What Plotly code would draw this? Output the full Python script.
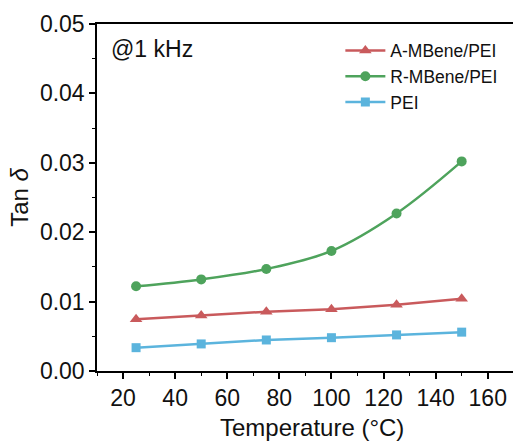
import plotly.graph_objects as go

temperature = [25, 50, 75, 100, 125, 150]
a_mbene = [0.00745, 0.0080, 0.00855, 0.0089, 0.00955, 0.0104]
r_mbene = [0.0122, 0.0132, 0.0147, 0.0173, 0.0227, 0.0302]
pei = [0.00336, 0.0039, 0.00447, 0.0048, 0.0052, 0.0056]

FONT = "Liberation Sans, Arial, sans-serif"

fig = go.Figure()
fig.add_trace(go.Scatter(x=temperature, y=a_mbene, name="A-MBene/PEI", mode="lines+markers",
                         line=dict(color="#C95A5C", width=2.5),
                         marker=dict(symbol="triangle-up", size=11, color="#C95A5C")))
fig.add_trace(go.Scatter(x=temperature, y=r_mbene, name="R-MBene/PEI", mode="lines+markers",
                         line=dict(color="#4EA35C", width=2.5, shape="spline", smoothing=1.0),
                         marker=dict(symbol="circle", size=10, color="#4EA35C")))
fig.add_trace(go.Scatter(x=temperature, y=pei, name="PEI", mode="lines+markers",
                         line=dict(color="#5BB4DD", width=2.5),
                         marker=dict(symbol="square", size=9, color="#5BB4DD")))

fig.update_layout(
    width=513, height=447,
    margin=dict(l=97, r=0, t=24, b=76),
    paper_bgcolor="white", plot_bgcolor="white",
    font=dict(family=FONT, color="#111111"),
    showlegend=True,
    legend=dict(x=0.585, y=0.975, xanchor="left", yanchor="top",
                font=dict(size=17.5, family=FONT), bgcolor="rgba(0,0,0,0)",
                tracegroupgap=0, itemwidth=40),
    xaxis=dict(range=[10, 169.7], tickvals=[20, 40, 60, 80, 100, 120, 140, 160],
               showline=True, linecolor="black", linewidth=1.5, mirror=True,
               ticks="outside", ticklen=6, tickwidth=1.5, tickcolor="black",
               minor=dict(tickvals=[10, 30, 50, 70, 90, 110, 130, 150, 170], ticks="outside",
                          ticklen=3, tickwidth=1.2, tickcolor="black"),
               tickfont=dict(size=23, family=FONT), showgrid=False, zeroline=False),
    yaxis=dict(range=[0, 0.05], tickvals=[0, 0.01, 0.02, 0.03, 0.04, 0.05], tickformat=".2f",
               showline=True, linecolor="black", linewidth=1.5,
               ticks="outside", ticklen=6, tickwidth=1.5, tickcolor="black",
               minor=dict(tickvals=[0.005, 0.015, 0.025, 0.035, 0.045], ticks="outside",
                          ticklen=3, tickwidth=1.2, tickcolor="black"),
               tickfont=dict(size=23, family=FONT), showgrid=False, zeroline=False,
               title=dict(text="Tan <i>δ</i>", font=dict(size=24, family=FONT), standoff=4)),
    annotations=[dict(text="@1 kHz", x=0.03, y=0.97, xref="paper", yref="paper",
                      xanchor="left", yanchor="top", showarrow=False,
                      font=dict(size=23, family=FONT)),
                 dict(text="Temperature (°C)", x=0.517, y=-0.162, xref="paper", yref="paper",
                      xanchor="center", yanchor="middle", showarrow=False,
                      font=dict(size=24, family=FONT))],
)

fig.write_html("out.html")
